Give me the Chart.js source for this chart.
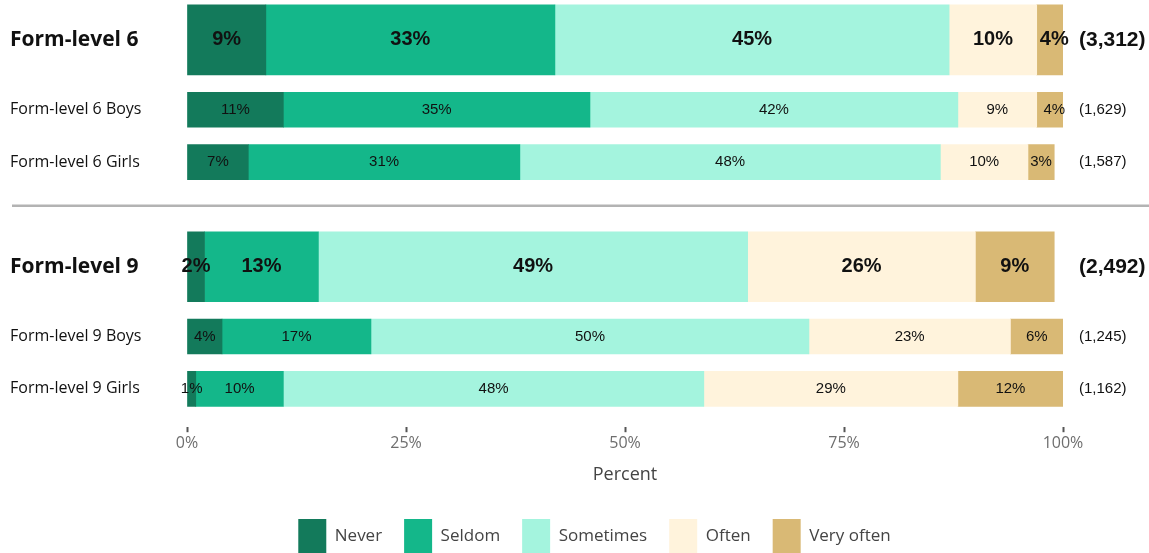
<!DOCTYPE html>
<html lang="en">

<head>
    <meta charset="UTF-8">
    <title>Form-level 6 and 9</title>
    <style>
        html,
        body {
            margin: 0;
            padding: 0;
            background: #ffffff;
        }

        #wrap {
            width: 1149px;
            height: 553px;
        }
    </style>
</head>

<body>
    <div id="wrap"><canvas id="chart"></canvas></div>

    <script src="https://cdn.jsdelivr.net/npm/chart.js"></script>

    <script>
        // rows, top to bottom
        const rows = ['Form-level 6', 'Form-level 6 Boys', 'Form-level 6 Girls',
            'Form-level 9', 'Form-level 9 Boys', 'Form-level 9 Girls'];
        const respondents = [3312, 1629, 1587, 2492, 1245, 1162];
        const responses = ['Never', 'Seldom', 'Sometimes', 'Often', 'Very often'];

        // percent per response, one value per row
        const never = [9, 11, 7, 2, 4, 1];
        const seldom = [33, 35, 31, 13, 17, 10];
        const sometimes = [45, 42, 48, 49, 50, 48];
        const often = [10, 9, 10, 26, 23, 29];
        const veryOften = [4, 4, 3, 9, 6, 12];

        const xTicks = [0, 25, 50, 75, 100];

        // layout: which rows are the totals, and where each row sits on the y axis
        const totalRows = [0, 3];
        const rowSlot = [0, 4, 7, 13, 17, 20];
        const dividerSlot = 9.5;

        const colors = ['#137a5b', '#14b78a', '#a4f4de', '#fff3dc', '#d9b975'];
        const series = [never, seldom, sometimes, often, veryOften];

        const labelFont = '"Open Sans", sans-serif';
        const numFont = '"Liberation Sans", Arial, sans-serif';

        // totals get thick bars, sub-groups thin ones -> two datasets per response
        const datasets = [];
        series.forEach((vals, k) => {
            [true, false].forEach(isTotal => {
                const pts = [];
                vals.forEach((v, i) => {
                    if (totalRows.includes(i) === isTotal) pts.push({ x: v, y: rowSlot[i] });
                });
                datasets.push({
                    label: responses[k],
                    data: pts,
                    backgroundColor: colors[k],
                    borderWidth: 0,
                    barThickness: isTotal ? 70 : 35,
                    clip: 0,
                    isTotal: isTotal
                });
            });
        });

        // percent text in the middle of each segment
        const segmentLabels = {
            id: 'segmentLabels',
            afterDatasetsDraw(chart) {
                const ctx = chart.ctx;
                ctx.save();
                ctx.textAlign = 'center';
                ctx.textBaseline = 'middle';
                ctx.fillStyle = '#111';
                chart.data.datasets.forEach((ds, i) => {
                    const meta = chart.getDatasetMeta(i);
                    ctx.font = ds.isTotal ? 'bold 20px ' + numFont : '15px ' + numFont;
                    meta.data.forEach((bar, j) => {
                        const c = bar.getCenterPoint();
                        ctx.fillText(ds.data[j].x + '%', c.x, c.y);
                    });
                });
                ctx.restore();
            }
        };

        // grey rule between the two form levels
        const divider = {
            id: 'divider',
            beforeDatasetsDraw(chart) {
                const ctx = chart.ctx;
                const y = chart.scales.y.getPixelForValue(dividerSlot);
                ctx.save();
                ctx.strokeStyle = '#b3b3b3';
                ctx.lineWidth = 2.5;
                ctx.beginPath();
                ctx.moveTo(12, y);
                ctx.lineTo(chart.width, y);
                ctx.stroke();
                ctx.restore();
            }
        };

        const rowTicks = scale => {
            scale.ticks = rowSlot.map(v => ({ value: v }));
        };

        // fixed side widths; no extra room above/below for the row labels
        const fitSide = width => scale => {
            scale.width = width;
            scale.paddingTop = 0;
            scale.paddingBottom = 0;
        };

        const yMin = -2.29;
        const yMax = 22.2;

        new Chart(document.getElementById('chart'), {
            type: 'bar',
            data: { datasets: datasets },
            options: {
                indexAxis: 'y',
                responsive: true,
                maintainAspectRatio: false,
                animation: false,
                layout: {
                    padding: { left: 10, right: -30, top: 0, bottom: -10 }
                },
                scales: {
                    x: {
                        type: 'linear',
                        stacked: true,
                        min: 0,
                        max: 100,
                        afterBuildTicks: scale => {
                            scale.ticks = xTicks.map(v => ({ value: v }));
                        },
                        ticks: {
                            callback: v => v + '%',
                            color: '#6e6e6e',
                            padding: 2,
                            font: { family: labelFont, size: 16 }
                        },
                        grid: {
                            drawOnChartArea: false,
                            tickLength: 5,
                            tickWidth: 2,
                            tickColor: '#555'
                        },
                        border: { display: false },
                        title: {
                            display: true,
                            text: 'Percent',
                            color: '#444',
                            font: { family: labelFont, size: 18 },
                            padding: { top: 9, bottom: 11 }
                        }
                    },
                    y: {
                        type: 'linear',
                        position: 'left',
                        stacked: true,
                        reverse: true,
                        offset: false,
                        min: yMin,
                        max: yMax,
                        afterBuildTicks: rowTicks,
                        afterFit: fitSide(177),
                        ticks: {
                            autoSkip: false,
                            crossAlign: 'far',
                            color: '#111',
                            callback: (v, i) => rows[i],
                            font: ctx => totalRows.includes(ctx.index)
                                ? { family: labelFont, size: 21, weight: 'bold' }
                                : { family: labelFont, size: 16 }
                        },
                        grid: { display: false },
                        border: { display: false }
                    },
                    counts: {
                        type: 'linear',
                        axis: 'y',
                        position: 'right',
                        reverse: true,
                        offset: false,
                        min: yMin,
                        max: yMax,
                        afterBuildTicks: rowTicks,
                        afterFit: fitSide(116),
                        ticks: {
                            autoSkip: false,
                            padding: 8,
                            color: '#111',
                            callback: (v, i) => '(' + respondents[i].toLocaleString('en-US') + ')',
                            font: ctx => totalRows.includes(ctx.index)
                                ? { family: numFont, size: 21, weight: 'bold' }
                                : { family: numFont, size: 15 }
                        },
                        grid: { display: false },
                        border: { display: false }
                    }
                },
                plugins: {
                    legend: {
                        position: 'bottom',
                        labels: {
                            filter: item => item.datasetIndex % 2 === 0,
                            boxWidth: 28,
                            boxHeight: 34,
                            padding: 22,
                            color: '#444',
                            font: { family: labelFont, size: 17 }
                        }
                    },
                    tooltip: { enabled: false }
                }
            },
            plugins: [segmentLabels, divider]
        });
    </script>

</body>

</html>
